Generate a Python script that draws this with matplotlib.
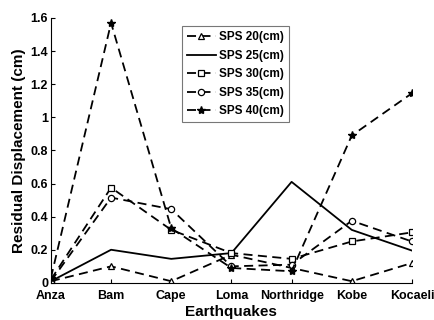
import matplotlib
matplotlib.use("Agg")
import matplotlib.pyplot as plt

plt.rcParams['font.family'] = ['Liberation Sans', 'DejaVu Sans']
plt.rcParams['font.weight'] = 'bold'

quakes = ["Anza", "Bam", "Cape", "Loma", "Northridge", "Kobe", "Kocaeli"]
sps20 = [0.01, 0.10, 0.01, 0.17, 0.09, 0.01, 0.12]
sps25 = [0.01, 0.20, 0.145, 0.18, 0.61, 0.32, 0.195]
sps30 = [0.02, 0.575, 0.32, 0.18, 0.145, 0.25, 0.305]
sps35 = [0.01, 0.515, 0.445, 0.10, 0.11, 0.375, 0.25]
sps40 = [0.03, 1.57, 0.33, 0.09, 0.07, 0.89, 1.145]
labels = ["SPS 20(cm)", "SPS 25(cm)", "SPS 30(cm)", "SPS 35(cm)", "SPS 40(cm)"]

fig = plt.figure(figsize=(4.35, 3.2), dpi=100)
ax = fig.add_axes([0.117, 0.116, 0.83, 0.828])
x = list(range(len(quakes)))
dash = (0, (5, 3))
lw = 1.3
ax.plot(x, sps20, color='black', lw=lw, linestyle=dash, marker='^', ms=5,
        mfc='white', mec='black', mew=0.9, label=labels[0])
ax.plot(x, sps25, color='black', lw=lw, linestyle='-', label=labels[1])
ax.plot(x, sps30, color='black', lw=lw, linestyle=dash, marker='s', ms=5,
        mfc='white', mec='black', mew=0.9, label=labels[2])
ax.plot(x, sps35, color='black', lw=lw, linestyle=dash, marker='o', ms=4.5,
        mfc='white', mec='black', mew=0.9, label=labels[3])
ax.plot(x, sps40, color='black', lw=lw, linestyle=dash, marker='*', ms=6,
        mfc='black', mec='black', label=labels[4])

ax.set_xlim(0, len(quakes) - 1)
ax.set_ylim(0, 1.6)
ax.set_xticks(x)
ax.set_xticklabels(quakes, fontsize=9, fontweight='bold')
yt = [0, 0.2, 0.4, 0.6, 0.8, 1.0, 1.2, 1.4, 1.6]
ax.set_yticks(yt)
ax.set_yticklabels(["0", "0.2", "0.4", "0.6", "0.8", "1", "1.2", "1.4", "1.6"],
                   fontsize=9, fontweight='bold')
ax.tick_params(direction='in', length=3, width=0.8)
ax.tick_params(axis='x', pad=5)
ax.tick_params(axis='y', pad=2)
ax.spines['top'].set_visible(False)
ax.spines['right'].set_visible(False)
for s in ['left', 'bottom']:
    ax.spines[s].set_linewidth(0.8)
ax.set_xlabel("Earthquakes", fontsize=11, fontweight='bold', labelpad=2)
ax.set_ylabel("Residual Displacement (cm)", fontsize=11, fontweight='bold', labelpad=3)

leg = ax.legend(loc='upper left', bbox_to_anchor=(0.363, 0.97), fontsize=8.5,
                frameon=True, fancybox=False, edgecolor='#555555',
                handlelength=2.4, handletextpad=0.3, borderpad=0.45,
                labelspacing=0.55, borderaxespad=0)
leg.get_frame().set_linewidth(0.8)
for t in leg.get_texts():
    t.set_fontweight('bold')

fig.savefig("out.png", dpi=100)
